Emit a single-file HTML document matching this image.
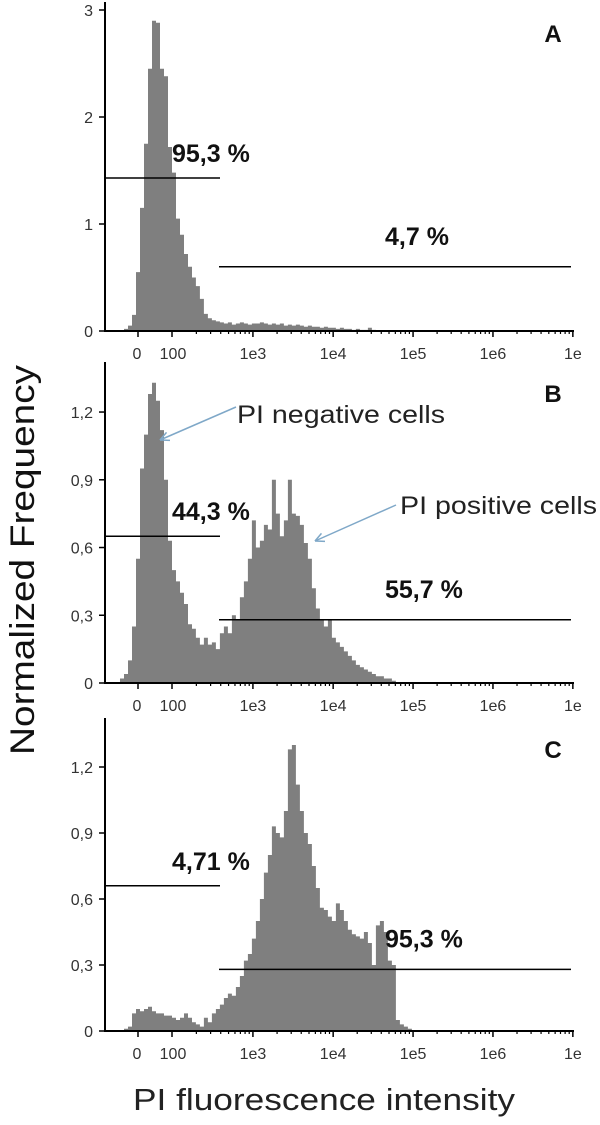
<!DOCTYPE html>
<html><head><meta charset="utf-8">
<style>
html,body{margin:0;padding:0;background:#fff;}
svg{display:block;}
text{font-family:"Liberation Sans",sans-serif;}
</style></head>
<body>
<svg id="fig" width="600" height="1125" viewBox="0 0 600 1125" xmlns="http://www.w3.org/2000/svg">
<text x="0" y="0" transform="translate(34,560) rotate(-90)" text-anchor="middle" font-size="34" textLength="390" lengthAdjust="spacingAndGlyphs" fill="#111">Normalized Frequency</text>
<text x="324" y="1110" text-anchor="middle" font-size="31" textLength="382" lengthAdjust="spacingAndGlyphs" fill="#222">PI fluorescence intensity</text>
</svg>
<script>
// x axis tick labels and their positions in transformed (display) units
const tickLabels = ["0", "100", "1e3", "1e4", "1e5", "1e6", "1e"];
const tickUnits = [0, 1, 3.38, 5.74, 8.09, 10.44, 12.79];
// histogram bin layout (transformed units)
const binStart = -0.53;
const binWidth = 0.1176;
// panel A heights
const histA = [0,0.02,0.05,0.15,0.55,1.15,1.75,2.45,2.9,2.88,2.45,2.38,1.72,1.48,1.05,0.9,0.72,0.6,0.5,0.42,0.3,0.16,0.12,0.1,0.09,0.08,0.07,0.08,0.06,0.07,0.08,0.07,0.06,0.07,0.07,0.08,0.07,0.06,0.07,0.06,0.07,0.05,0.06,0.05,0.06,0.05,0.04,0.05,0.04,0.04,0.03,0.04,0.03,0.03,0.02,0.03,0.02,0.02,0.01,0.02,0.01,0.01,0.03,0.01,0,0,0,0,0,0,0,0,0,0,0];
// panel B heights
const histB = [0.02,0.04,0.1,0.25,0.55,0.95,1.1,1.28,1.33,1.25,1.12,0.9,0.63,0.5,0.45,0.4,0.35,0.26,0.24,0.2,0.17,0.2,0.17,0.18,0.15,0.22,0.25,0.22,0.3,0.28,0.38,0.45,0.55,0.72,0.6,0.63,0.7,0.68,0.9,0.75,0.65,0.72,0.9,0.75,0.74,0.7,0.62,0.55,0.42,0.33,0.28,0.25,0.28,0.2,0.18,0.16,0.14,0.12,0.1,0.08,0.07,0.06,0.05,0.04,0.03,0.03,0.02,0.02,0.01,0,0,0,0,0,0];
// panel C heights
const histC = [0,0.01,0.02,0.08,0.1,0.09,0.1,0.11,0.09,0.08,0.08,0.07,0.07,0.06,0.05,0.06,0.08,0.06,0.04,0.03,0.02,0.06,0.04,0.08,0.1,0.12,0.15,0.17,0.16,0.2,0.25,0.32,0.35,0.42,0.5,0.6,0.72,0.8,0.93,0.9,0.88,1.0,1.28,1.3,1.12,1.0,0.9,0.85,0.75,0.65,0.56,0.55,0.52,0.5,0.58,0.55,0.5,0.46,0.44,0.43,0.42,0.45,0.4,0.3,0.48,0.5,0.45,0.32,0.3,0.05,0.03,0.02,0.01,0,0];
// y ticks
const yTicksA = [0, 1, 2, 3];
const yLabelsA = ["0", "1", "2", "3"];
const yTicksBC = [0, 0.3, 0.6, 0.9, 1.2];
const yLabelsBC = ["0", "0,3", "0,6", "0,9", "1,2"];
// gates: [leftLevel, rightLevel]
const gatesA = [1.43, 0.6];
const gatesB = [0.65, 0.28];
const gatesC = [0.66, 0.28];
const pctA = ["95,3 %", "4,7 %"];
const pctB = ["44,3 %", "55,7 %"];
const pctC = ["4,71 %", "95,3 %"];

const NS = "http://www.w3.org/2000/svg";
const svg = document.getElementById("fig");
function mk(tag, attrs, parent){const e=document.createElementNS(NS,tag);for(const k in attrs)e.setAttribute(k,attrs[k]);(parent||svg).appendChild(e);return e;}
const xs = t => 138 + t*34;
const axL = 105, axR = 574;

function panel(id, y0, ppu, yTop, hist, yt, yl, gates, pct, letter){
  const g = mk("g",{});
  
  
  const ys = v => y0 - v*ppu;
  let d = "M"+xs(binStart)+","+y0;
  hist.forEach((h,i)=>{const x0=xs(binStart+i*binWidth), x1=xs(binStart+(i+1)*binWidth);d+=" L"+x0.toFixed(1)+","+ys(h).toFixed(1)+" L"+x1.toFixed(1)+","+ys(h).toFixed(1);});
  d += " L"+xs(binStart+hist.length*binWidth)+","+y0+" Z";
  const p = mk("path",{d:d,fill:"#7f7f7f",stroke:"none"},g);
  
  
  const ya = mk("line",{x1:axL,y1:yTop,x2:axL,y2:y0+1,stroke:"#000","stroke-width":2},g);
  
  
  const xa = mk("line",{x1:axL-1,y1:y0,x2:axR,y2:y0,stroke:"#000","stroke-width":2},g);
  
  
  yt.forEach((v,i)=>{
    mk("line",{x1:axL-6,y1:ys(v),x2:axL,y2:ys(v),stroke:"#000","stroke-width":1.5},g);
    const t = mk("text",{x:axL-12,y:ys(v)+6,"text-anchor":"end","font-size":16,fill:"#333"},g);
    t.textContent = yl[i];
    
    
  });
  tickUnits.forEach((u,i)=>{
    mk("line",{x1:xs(u),y1:y0,x2:xs(u),y2:y0+6,stroke:"#000","stroke-width":1.5},g);
    const t = mk("text",{x:xs(u)+(i===0?-1:i===1?1:0),y:y0+28,"text-anchor":"middle","font-size":16,fill:"#333"},g);
    t.textContent = tickLabels[i];
    
    
  });
  for(let k=2;k<6;k++){
    const a=tickUnits[k], b=tickUnits[k+1];
    for(let m=2;m<10;m++){const x=xs(a+(b-a)*Math.log10(m));mk("line",{x1:x,y1:y0,x2:x,y2:y0+3,stroke:"#000","stroke-width":1.2},g);}
  }
  for(let m=2;m<10;m++){const x=xs(1+(tickUnits[2]-1)*Math.log10(m));mk("line",{x1:x,y1:y0,x2:x,y2:y0+3,stroke:"#000","stroke-width":1.2},g);}
  const gl = mk("line",{x1:axL,y1:ys(gates[0]),x2:220,y2:ys(gates[0]),stroke:"#000","stroke-width":1.5},g);
  
  
  const gr = mk("line",{x1:219,y1:ys(gates[1]),x2:571,y2:ys(gates[1]),stroke:"#000","stroke-width":1.5},g);
  
  
  const t1 = mk("text",{x:172,y:ys(gates[0])-16,"font-size":25,"font-weight":"bold",fill:"#111"},g);
  t1.textContent = pct[0];
  
  
  const t2 = mk("text",{x:385,y:ys(gates[1])-22,"font-size":25,"font-weight":"bold",fill:"#111"},g);
  t2.textContent = pct[1];
  
  
  const L = mk("text",{x:553,y:yTop+40,"font-size":24,"font-weight":"bold",fill:"#111","text-anchor":"middle"},g);
  L.textContent = letter;
  
  
}
panel("a", 331, 107, 2, histA, yTicksA, yLabelsA, gatesA, pctA, "A");
panel("b", 683, 225.8, 362, histB, yTicksBC, yLabelsBC, gatesB, pctB, "B");
panel("c", 1031, 220, 718, histC, yTicksBC, yLabelsBC, gatesC, pctC, "C");

function arrow(x1,y1,x2,y2,name){
  const g = mk("g",{});
  
  
  mk("line",{x1:x1,y1:y1,x2:x2,y2:y2,stroke:"#7fa8c8","stroke-width":1.5},g);
  const a=Math.atan2(y2-y1,x2-x1), L=10;
  [0.45,-0.45].forEach(s=>mk("line",{x1:x2,y1:y2,x2:x2-L*Math.cos(a+s),y2:y2-L*Math.sin(a+s),stroke:"#7fa8c8","stroke-width":1.5},g));
}
arrow(236,407,160,440,"arrow-pi-negative");
arrow(396,505,315,541,"arrow-pi-positive");
const n1 = mk("text",{x:237,y:423,"font-size":25,fill:"#222",textLength:208,lengthAdjust:"spacingAndGlyphs"});
n1.textContent = "PI negative cells";


const n2 = mk("text",{x:400,y:514,"font-size":25,fill:"#222",textLength:197,lengthAdjust:"spacingAndGlyphs"});
n2.textContent = "PI positive cells";


</script>
</body></html>
